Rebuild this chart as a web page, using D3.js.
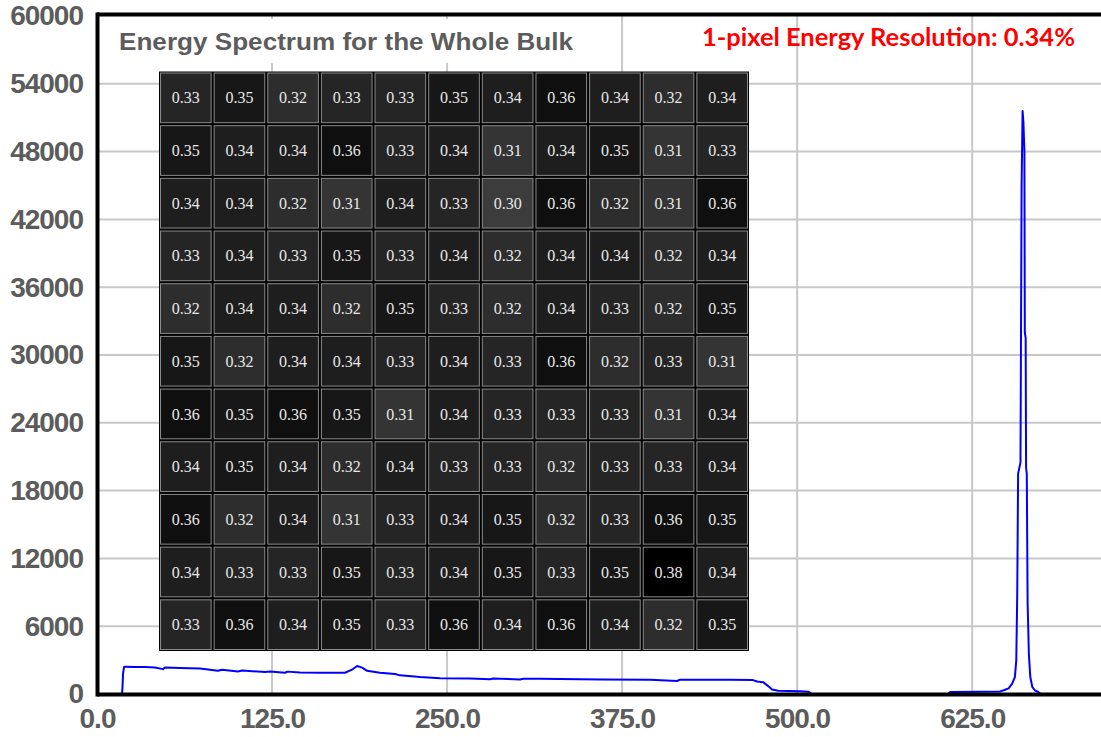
<!DOCTYPE html>
<html>
<head>
<meta charset="utf-8">
<script src="https://cdn.jsdelivr.net/npm/d3@7"></script>
<style>
  html, body { margin: 0; padding: 0; background: #ffffff; }
  svg { display: block; }
</style>
</head>
<body>
<svg id="chart" width="1101" height="737"></svg>
<script>
// Spectrum: channel (energy) vs counts
const specX = [
  0, 17.9, 18.2, 18.6, 19.3, 20.0, 27.1, 34.3, 41.4, 47.1, 48.6, 59.3, 73.6, 86.4, 89.3,
  100.7, 103.6, 120.0, 123.6, 134.3, 136.0, 145.0, 159.3, 177.1, 182.1, 185.7, 189.3, 192.9,
  202.1, 212.9, 216.4, 230.7, 245.0, 266.4, 280.7, 283.0, 287.9, 302.1, 304.5, 316.4, 359.3,
  395.0, 414.3, 416.0, 423.6, 452.1, 467.9, 471.4, 475.7, 479.3, 482.1, 486.4, 502.1, 507.9,
  510.7, 607.9, 609.3, 630.0, 645.0, 648.0, 651.0, 653.5, 655.5, 656.5, 657.2, 657.8, 659.5,
  660.3, 661.0, 661.6, 662.3, 662.6, 663.2, 663.5, 664.0, 664.6, 665.5, 666.5, 668.0, 670.0,
  672.0, 674.0, 717
];
const specCounts = [
  0, 0, 600, 1800, 2400, 2420, 2390, 2400, 2350, 2200, 2340, 2300, 2250, 2050, 2150,
  2000, 2080, 1950, 2000, 1880, 1980, 1900, 1880, 1880, 2150, 2480, 2330, 2050,
  1880, 1770, 1650, 1500, 1400, 1380, 1300, 1370, 1350, 1290, 1350, 1340, 1280,
  1260, 1150, 1260, 1260, 1260, 1250, 1100, 1050, 700, 400, 280, 250, 200,
  0, 0, 180, 200, 230, 350, 500, 900, 1500, 3000, 9000, 19500, 20500,
  45000, 51600, 50600, 48000, 32000, 31500, 20000, 19500, 8000, 3500, 1500, 600, 300,
  200, 0, 0
];

// Per-pixel energy resolution (%) on the 11 x 11 detector grid
const pixelRows = [
  [0.33, 0.35, 0.32, 0.33, 0.33, 0.35, 0.34, 0.36, 0.34, 0.32, 0.34],
  [0.35, 0.34, 0.34, 0.36, 0.33, 0.34, 0.31, 0.34, 0.35, 0.31, 0.33],
  [0.34, 0.34, 0.32, 0.31, 0.34, 0.33, 0.30, 0.36, 0.32, 0.31, 0.36],
  [0.33, 0.34, 0.33, 0.35, 0.33, 0.34, 0.32, 0.34, 0.34, 0.32, 0.34],
  [0.32, 0.34, 0.34, 0.32, 0.35, 0.33, 0.32, 0.34, 0.33, 0.32, 0.35],
  [0.35, 0.32, 0.34, 0.34, 0.33, 0.34, 0.33, 0.36, 0.32, 0.33, 0.31],
  [0.36, 0.35, 0.36, 0.35, 0.31, 0.34, 0.33, 0.33, 0.33, 0.31, 0.34],
  [0.34, 0.35, 0.34, 0.32, 0.34, 0.33, 0.33, 0.32, 0.33, 0.33, 0.34],
  [0.36, 0.32, 0.34, 0.31, 0.33, 0.34, 0.35, 0.32, 0.33, 0.36, 0.35],
  [0.34, 0.33, 0.33, 0.35, 0.33, 0.34, 0.35, 0.33, 0.35, 0.38, 0.34],
  [0.33, 0.36, 0.34, 0.35, 0.33, 0.36, 0.34, 0.36, 0.34, 0.32, 0.35]
];

const yTicks = [0, 6000, 12000, 18000, 24000, 30000, 36000, 42000, 48000, 54000, 60000];
const xTicks = [0, 125, 250, 375, 500, 625];

const titleText = "Energy Spectrum for the Whole Bulk";
const resolutionText = "1-pixel Energy Resolution: 0.34%";

const svg = d3.select("#chart");

const x = d3.scaleLinear().domain([0, 717]).range([97, 1101]);
const y = d3.scaleLinear().domain([0, 60000]).range([694, 16]);

// grid
const grid = svg.append("g").attr("stroke", "#c8c8c8").attr("stroke-width", 2);
grid.selectAll("line.h").data(yTicks.filter(d => d > 0 && d < 60000)).join("line")
  .attr("class", "h")
  .attr("x1", x(0)).attr("x2", 1101)
  .attr("y1", d => y(d)).attr("y2", d => y(d));
grid.selectAll("line.v").data(xTicks.filter(d => d > 0)).join("line")
  .attr("class", "v")
  .attr("x1", d => x(d)).attr("x2", d => x(d))
  .attr("y1", y(60000)).attr("y2", y(0));

// spectrum trace
const specData = specX.map((v, i) => [v, specCounts[i]]);
svg.append("path")
  .datum(specData)
  .attr("fill", "none")
  .attr("stroke", "#0000ff")
  .attr("stroke-width", 2)
  .attr("stroke-linejoin", "round")
  .attr("d", d3.line().x(d => x(d[0])).y(d => y(d[1])));

// title with its white backing
svg.append("rect")
  .attr("x", 106).attr("y", 19).attr("width", 484).attr("height", 44)
  .attr("fill", "#ffffff");
svg.append("text")
  .attr("x", 119).attr("y", 50)
  .attr("font-family", "'Liberation Sans', Arial, sans-serif")
  .attr("font-weight", "bold")
  .attr("font-size", 23)
  .attr("fill", "#5c5c5c")
  .attr("textLength", 454)
  .attr("lengthAdjust", "spacingAndGlyphs")
  .text(titleText);

// resolution map
const cols = d3.scaleBand().domain(d3.range(11)).range([159, 749]);
const rows = d3.scaleBand().domain(d3.range(11)).range([71.5, 651]);
const shade = d3.scaleLinear().domain([0.30, 0.38]).range(["#3c3c3c", "#000000"]);

const map = svg.append("g");
map.append("rect")
  .attr("x", 159).attr("y", 71.5)
  .attr("width", 590).attr("height", 579.5)
  .attr("fill", "#000000");

const cells = pixelRows.flatMap((row, r) => row.map((v, c) => ({ r, c, v })));
map.selectAll("rect.cell").data(cells).join("rect")
  .attr("class", "cell")
  .attr("x", d => cols(d.c) + 1.5)
  .attr("y", d => rows(d.r) + 1.5)
  .attr("width", cols.bandwidth() - 3)
  .attr("height", rows.bandwidth() - 3)
  .attr("fill", d => shade(d.v))
  .attr("stroke", "#8a8a8a")
  .attr("stroke-width", 1);
map.selectAll("text").data(cells).join("text")
  .attr("x", d => cols(d.c) + cols.bandwidth() / 2)
  .attr("y", d => rows(d.r) + rows.bandwidth() / 2)
  .attr("dy", "0.35em")
  .attr("text-anchor", "middle")
  .attr("font-family", "'Liberation Serif', 'Times New Roman', serif")
  .attr("font-size", 16)
  .attr("fill", "#e8e8e8")
  .text(d => d3.format(".2f")(d.v));

// frame
const frame = svg.append("g").attr("stroke", "#000000").attr("stroke-width", 4);
frame.append("line").attr("x1", 97).attr("x2", 1101).attr("y1", 14.5).attr("y2", 14.5);
frame.append("line").attr("x1", 97).attr("x2", 1101).attr("y1", 694.5).attr("y2", 694.5);
frame.append("line").attr("x1", 97.5).attr("x2", 97.5).attr("y1", 12.5).attr("y2", 696.5);

// axes
const yAxis = svg.append("g")
  .attr("transform", "translate(97,0)")
  .call(d3.axisLeft(y).tickValues(yTicks).tickFormat(d3.format("d")).tickSize(0).tickPadding(14));
const xAxis = svg.append("g")
  .attr("transform", "translate(0,694)")
  .call(d3.axisBottom(x).tickValues(xTicks).tickFormat(d3.format(".1f")).tickSize(0).tickPadding(14));
[yAxis, xAxis].forEach(a => {
  a.select(".domain").remove();
  a.selectAll("text")
    .attr("font-family", "'Liberation Sans', Arial, sans-serif")
    .attr("font-weight", "bold")
    .attr("font-size", 28)
    .attr("letter-spacing", "-1px")
    .attr("fill", "#5c5c5c");
});

// headline resolution
svg.append("text")
  .attr("x", 702).attr("y", 46)
  .attr("font-family", "Lato, 'Open Sans', sans-serif")
  .attr("font-weight", "bold")
  .attr("font-size", 24)
  .attr("fill", "#ff0000")
  .attr("textLength", 373)
  .attr("lengthAdjust", "spacingAndGlyphs")
  .text(resolutionText);
</script>
</body>
</html>
